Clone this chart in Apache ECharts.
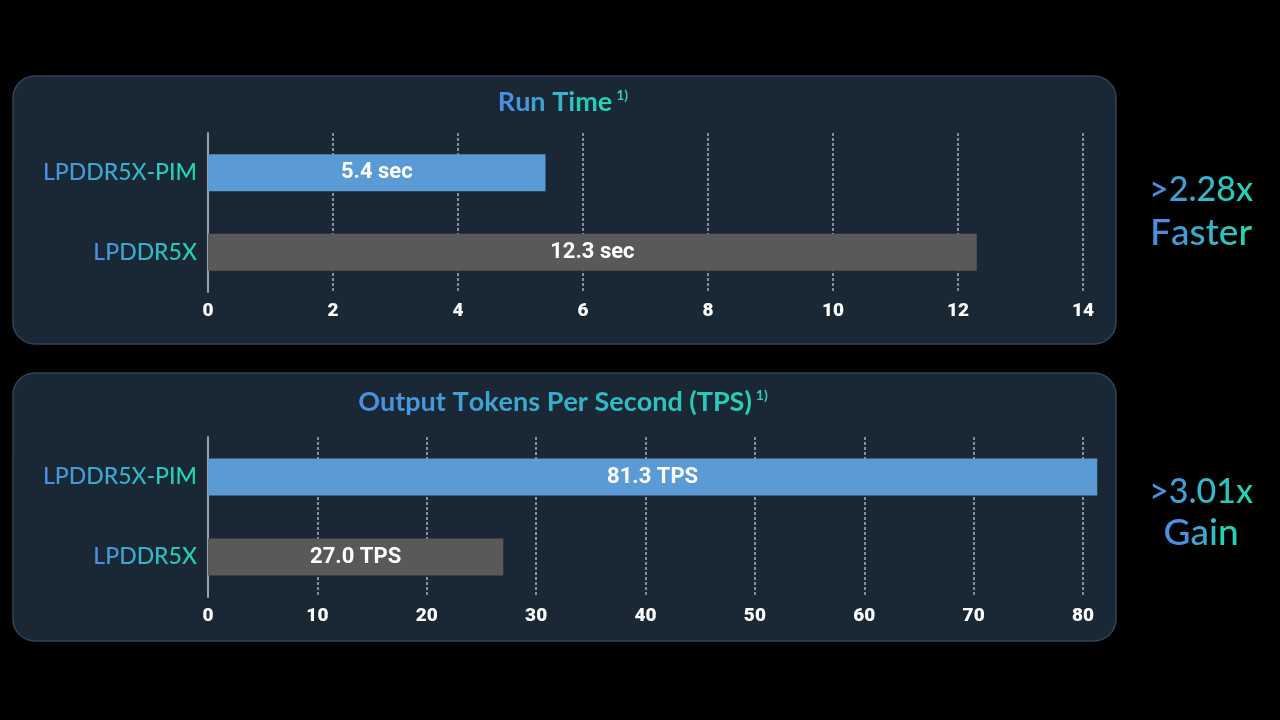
<!DOCTYPE html>
<html><head><meta charset="utf-8">
<script src="https://cdn.jsdelivr.net/npm/echarts@6/dist/echarts.min.js"></script>
<style>html,body{margin:0;padding:0;background:#000;}#c{width:1280px;height:720px;}</style>
</head><body><div id="c"></div>
<script>
const categories = ['LPDDR5X-PIM', 'LPDDR5X'];
const runTime = [5.4, 12.3];
const runTimeLabels = ['5.4 sec', '12.3 sec'];
const tps = [81.3, 27.0];
const tpsLabels = ['81.3 TPS', '27.0 TPS'];
const titles = ['Run Time', 'Output Tokens Per Second (TPS)'];
const sideTop = ['>2.28x', 'Faster'];
const sideBottom = ['>3.01x', 'Gain'];

const chart = echarts.init(document.getElementById('c'));
const barColors = ['#5b9bd5', '#595959'];
const catFont = 'Lato, "Noto Sans", sans-serif';

// blue -> teal colour steps for a per-character gradient
const STEPS = 16;
const c0 = [74, 143, 224], c1 = [34, 211, 180];
const stepColors = [];
for (let i = 0; i < STEPS; i++) {
  const t = i / (STEPS - 1);
  const c = c0.map((v, k) => Math.round(v + (c1[k] - v) * t));
  stepColors.push('rgb(' + c.join(',') + ')');
}
function gradRich(base, colorKey) {
  const r = {};
  stepColors.forEach((col, i) => { r['g' + i] = Object.assign({}, base, {[colorKey]: col}); });
  return r;
}
function gradText(s) {
  const n = s.length;
  let out = '';
  for (let i = 0; i < n; i++) {
    const idx = n > 1 ? Math.round(i / (n - 1) * (STEPS - 1)) : 0;
    out += '{g' + idx + '|' + s[i] + '}';
  }
  return out;
}

function yAx(gi) {
  return {
    gridIndex: gi, type: 'category', data: categories, inverse: true,
    axisLine: {show: true, lineStyle: {color: '#9aa3ab', width: 2}},
    axisTick: {show: false},
    axisLabel: {margin: 11, formatter: v => gradText(v),
      rich: gradRich({fontSize: 23, fontFamily: catFont, fontWeight: 500}, 'color')}
  };
}
function xAx(gi, max, interval) {
  return {
    gridIndex: gi, type: 'value', min: 0, max: max, interval: interval,
    axisLine: {show: false}, axisTick: {show: false},
    splitLine: {show: true, lineStyle: {color: '#aab4bd', type: [3, 2], width: 1.5}},
    axisLabel: {color: '#ffffff', fontSize: 19, fontWeight: 900, fontFamily: 'Roboto, sans-serif', margin: 10}
  };
}
function series(gi, vals, labels) {
  return {
    type: 'bar', xAxisIndex: gi, yAxisIndex: gi, barWidth: 37, clip: false,
    data: vals.map((v, i) => ({value: v, itemStyle: {color: barColors[i]}})),
    label: {
      show: true, position: 'inside', color: '#ffffff', fontSize: 22, fontWeight: 'bold',
      fontFamily: '"Liberation Sans Narrow", Roboto, sans-serif',
      formatter: p => labels[p.dataIndex]
    }
  };
}
function panel(y) {
  return {type: 'rect', shape: {x: 13, y: y, width: 1103, height: 268, r: 22},
    style: {fill: '#1a2735', stroke: '#2e4559', lineWidth: 1.5}, z: -10};
}
function titleText(txt, y) {
  const rich = gradRich({fontSize: 27, fontFamily: catFont, fontWeight: 'bold'}, 'fill');
  rich.sup = {fill: '#2fd0b8', fontSize: 14, fontFamily: catFont, fontWeight: 'bold', padding: [0, 0, 14, 4]};
  return {type: 'text', x: 563, y: y, z: 10,
    style: {text: gradText(txt) + '{sup|1)}', align: 'center', verticalAlign: 'middle', rich: rich}};
}
function side(txt, y, size) {
  return {type: 'text', x: 1201, y: y, z: 10,
    style: {text: gradText(txt), align: 'center', verticalAlign: 'middle',
      rich: gradRich({fontSize: size, fontFamily: catFont, fontWeight: 500}, 'fill')}};
}

chart.setOption({
  backgroundColor: '#000000',
  animation: false,
  grid: [
    {left: 208, right: 197, top: 133, height: 159},
    {left: 208, right: 197, top: 437, height: 160}
  ],
  xAxis: [xAx(0, 14, 2), xAx(1, 80, 10)],
  yAxis: [yAx(0), yAx(1)],
  series: [series(0, runTime, runTimeLabels), series(1, tps, tpsLabels)],
  graphic: [
    panel(76), panel(373),
    titleText(titles[0], 102), titleText(titles[1], 402),
    side(sideTop[0], 190, 34), side(sideTop[1], 233, 37),
    side(sideBottom[0], 492, 34), side(sideBottom[1], 533, 37)
  ]
});
</script></body></html>
